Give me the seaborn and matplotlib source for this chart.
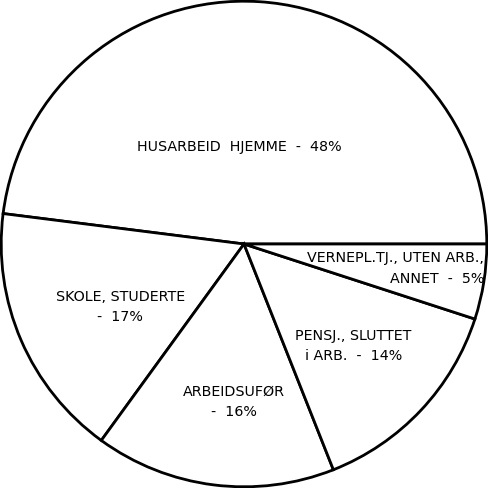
import matplotlib
matplotlib.use("Agg")
import matplotlib.pyplot as plt
import seaborn as sns

# andel av befolkningen utenfor arbeidsstyrken, prosent
kategorier = ["HUSARBEID HJEMME", "SKOLE, STUDERTE", "ARBEIDSUFØR",
              "PENSJ., SLUTTET i ARB.", "VERNEPL.TJ., UTEN ARB., ANNET"]
andel = [48, 17, 16, 14, 5]
etiketter = ["HUSARBEID  HJEMME  -  48%",
             "SKOLE, STUDERTE\n-  17%",
             "ARBEIDSUFØR\n-  16%",
             "PENSJ., SLUTTET\ni ARB.  -  14%",
             "VERNEPL.TJ., UTEN ARB.,\nANNET  -  5%"]

sns.set_theme(style="white")
plt.rcParams["font.family"] = ["DejaVu Sans"]

fig = plt.figure(figsize=(4.88, 4.88), dpi=100)
ax = fig.add_axes([0, 0, 1, 1])

wedges, _ = ax.pie(andel, startangle=0, counterclock=True,
                   colors=["white"] * len(andel),
                   wedgeprops=dict(edgecolor="black", linewidth=2.0))

# plassering av tekst i hvert felt (data-koordinater)
pos = [(-0.02, 0.40, "center"), (-0.51, -0.26, "center"), (-0.04, -0.65, "center"),
       (0.45, -0.42, "center"), (0.99, -0.10, "right")]
for lab, (x, y, ha) in zip(etiketter, pos):
    ax.text(x, y, lab, ha=ha, va="center", fontsize=10.3, color="black",
            linespacing=1.6, multialignment=ha)

ax.set_xlim(-1.005, 1.005)
ax.set_ylim(-1.005, 1.005)
ax.set_aspect("equal")
ax.axis("off")

fig.savefig("out.png", dpi=100, facecolor="white")
